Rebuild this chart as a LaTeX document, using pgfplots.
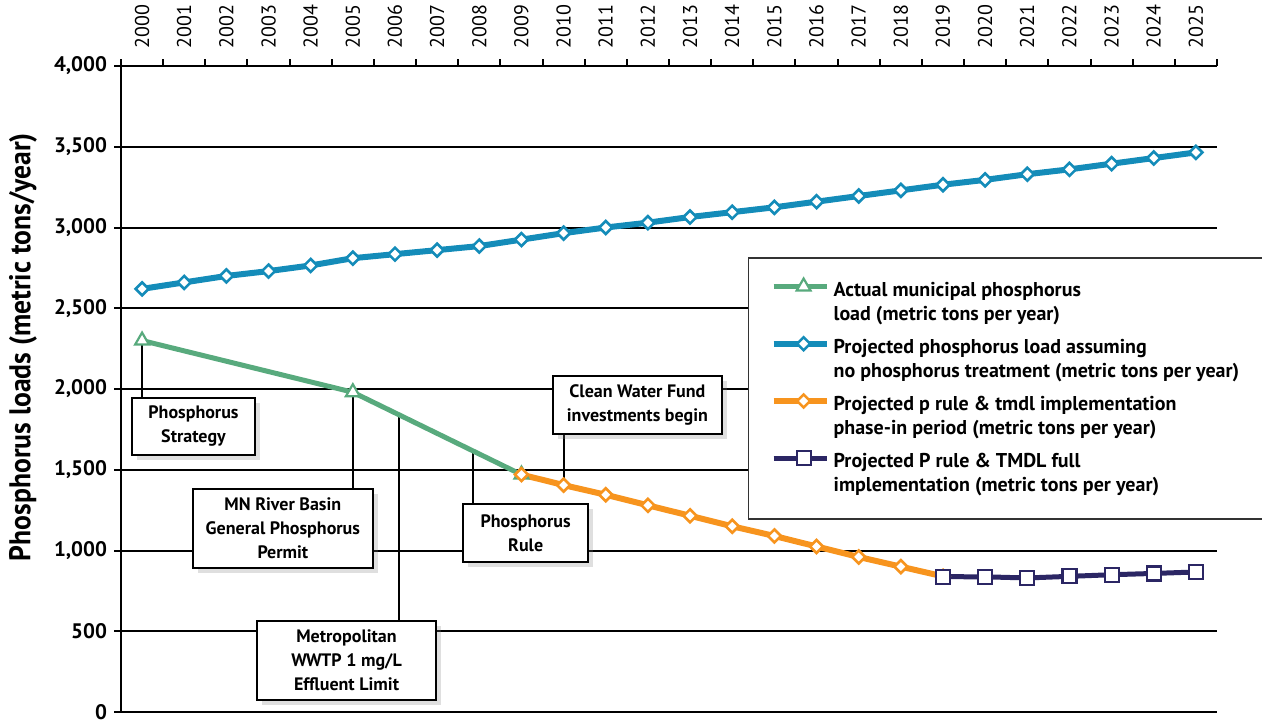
\documentclass[border=0pt]{standalone}
\usepackage{pgfplots}
\pgfplotsset{compat=1.18}
\usepackage{fontspec}
\setmainfont{PT Sans}
\newfontfamily\condfont{PT Sans}[FakeStretch=0.92]
\usetikzlibrary{shadows}

\definecolor{cgreen}{RGB}{88,170,125}
\definecolor{cblue}{RGB}{20,140,185}
\definecolor{corange}{RGB}{247,148,30}
\definecolor{cnavy}{RGB}{43,38,100}

% two-line legend text
\newcommand\legtxt[2]{\parbox[b]{203pt}{\baselineskip=12pt #1\\#2}}

\tikzset{annot/.style={draw=black, line width=0.8pt, fill=white,
    drop shadow={shadow xshift=2.5pt, shadow yshift=-2.5pt, opacity=0.25},
    align=center, inner sep=1pt,
    font=\fontsize{9}{12}\selectfont\bfseries}}

\begin{document}
\begin{tikzpicture}
  \begin{axis}[
    name=ax,
    scale only axis,
    width=548pt, height=323pt,
    xmin=1999.5, xmax=2025.5,
    ymin=0, ymax=4000,
    axis x line*=top, axis y line*=left,
    axis line style={line width=1pt, -},
    xtick={2000,...,2025},
    minor xtick={1999.5,2000.5,...,2025.5},
    major x tick style={draw=none},
    ytick={0,500,...,4000},
    tick align=outside,
    major tick length=3.5pt, minor tick length=3.5pt,
    tick style={black, line width=1pt},
    ymajorgrids,
    major grid style={black, line width=1pt},
    x tick label style={rotate=90, anchor=west, inner xsep=5pt,
      font=\fontsize{10}{10}\selectfont,
      /pgf/number format/1000 sep={}},
    y tick label style={font=\fontsize{10.5}{10.5}\selectfont\bfseries,
      /pgf/number format/1000 sep={,}},
    /pgf/number format/assume math mode=true,
    legend style={at={(rel axis cs:0.572,0.704)}, anchor=north west,
      draw=black!80, line width=0.7pt, inner xsep=11pt, inner ysep=10pt,
      row sep=4pt, font=\fontsize{10}{12}\selectfont\bfseries},
    legend cell align=left,
    legend image code/.code={
      \path (0pt,8pt) -- (26.5pt,8pt);
      \draw[mark repeat=2, mark phase=2, #1]
        plot coordinates {(6pt,8pt) (15pt,8pt) (24pt,8pt)};},
  ]
    % call-out lines and boxes
    \draw[line width=1pt] (axis cs:2000,2300) -- (axis cs:2000,1944);
    \draw[line width=1pt] (axis cs:2005,1980) -- (axis cs:2005,1381);
    \draw[line width=1pt] (axis cs:2006.1,1840) -- (axis cs:2006.1,563);
    \draw[line width=1pt] (axis cs:2007.85,1617) -- (axis cs:2007.85,1288);
    \draw[line width=1pt] (axis cs:2010,1721) -- (axis cs:2010,1405);
    \node[annot, minimum width=61.5pt, minimum height=28.5pt]
      at (axis cs:2001.22,1768) {Phosphorus\\Strategy};
    \node[annot, minimum width=90pt, minimum height=39.5pt]
      at (axis cs:2003.34,1136) {MN River Basin\\General Phosphorus\\Permit};
    \node[annot, minimum width=89.5pt, minimum height=39.5pt]
      at (axis cs:2004.85,319) {Metropolitan\\WWTP 1 mg/L\\Effluent Limit};
    \node[annot, minimum width=62.5pt, minimum height=29pt]
      at (axis cs:2009.10,1108) {Phosphorus\\Rule};
    \node[annot, minimum width=84.5pt, minimum height=29pt]
      at (axis cs:2011.75,1901) {Clean Water Fund\\investments begin};

    % actual load
    \addplot[cgreen, line width=2.5pt, mark=triangle*, mark size=4pt,
      mark options={fill=white, draw=cgreen, line width=1.1pt, solid}]
      coordinates {(2000,2300) (2005,1980) (2009,1470)};
    \addlegendentry{\legtxt{Actual municipal phosphorus}{load (metric tons per year)}}

    % no treatment
    \addplot[cblue, line width=3pt, mark=square*, mark size=2.3pt,
      mark options={rotate=45, fill=white, draw=cblue, line width=1.3pt, solid}]
      coordinates {
        (2000,2620) (2001,2660) (2002,2700) (2003,2730) (2004,2765)
        (2005,2810) (2006,2835) (2007,2860) (2008,2885) (2009,2925)
        (2010,2965) (2011,3000) (2012,3030) (2013,3065) (2014,3095)
        (2015,3125) (2016,3160) (2017,3195) (2018,3230) (2019,3265)
        (2020,3295) (2021,3330) (2022,3360) (2023,3395) (2024,3430)
        (2025,3465)};
    \addlegendentry{\legtxt{Projected phosphorus load assuming}{no phosphorus treatment (metric tons per year)}}

    % phase-in
    \addplot[corange, line width=3pt, mark=square*, mark size=2.3pt,
      mark options={rotate=45, fill=white, draw=corange, line width=1.3pt, solid}]
      coordinates {
        (2009,1470) (2010,1405) (2011,1345) (2012,1280) (2013,1215)
        (2014,1150) (2015,1090) (2016,1025) (2017,960) (2018,900)
        (2019,840)};
    \addlegendentry{\legtxt{Projected p rule \& tmdl implementation}{phase-in period (metric tons per year)}}

    % full implementation
    \addplot[cnavy, line width=2.5pt, mark=square*, mark size=3.5pt,
      mark options={fill=white, draw=cnavy, line width=1.1pt, solid}]
      coordinates {
        (2019,838) (2020,837) (2021,830) (2022,840) (2023,850)
        (2024,858) (2025,867)};
    \addlegendentry{\legtxt{Projected P rule \& TMDL full}{implementation (metric tons per year)}}
  \end{axis}
  \node[rotate=90, font=\condfont\fontsize{15}{15}\selectfont\bfseries]
    at ([shift={(-49pt,182.5pt)}]ax.south west)
    {Phosphorus loads (metric tons/year)};
  \pgfresetboundingbox
  \useasboundingbox ([shift={(-60.5pt,-3.5pt)}]ax.south west) rectangle ++(631pt,359.5pt);
\end{tikzpicture}
\end{document}
